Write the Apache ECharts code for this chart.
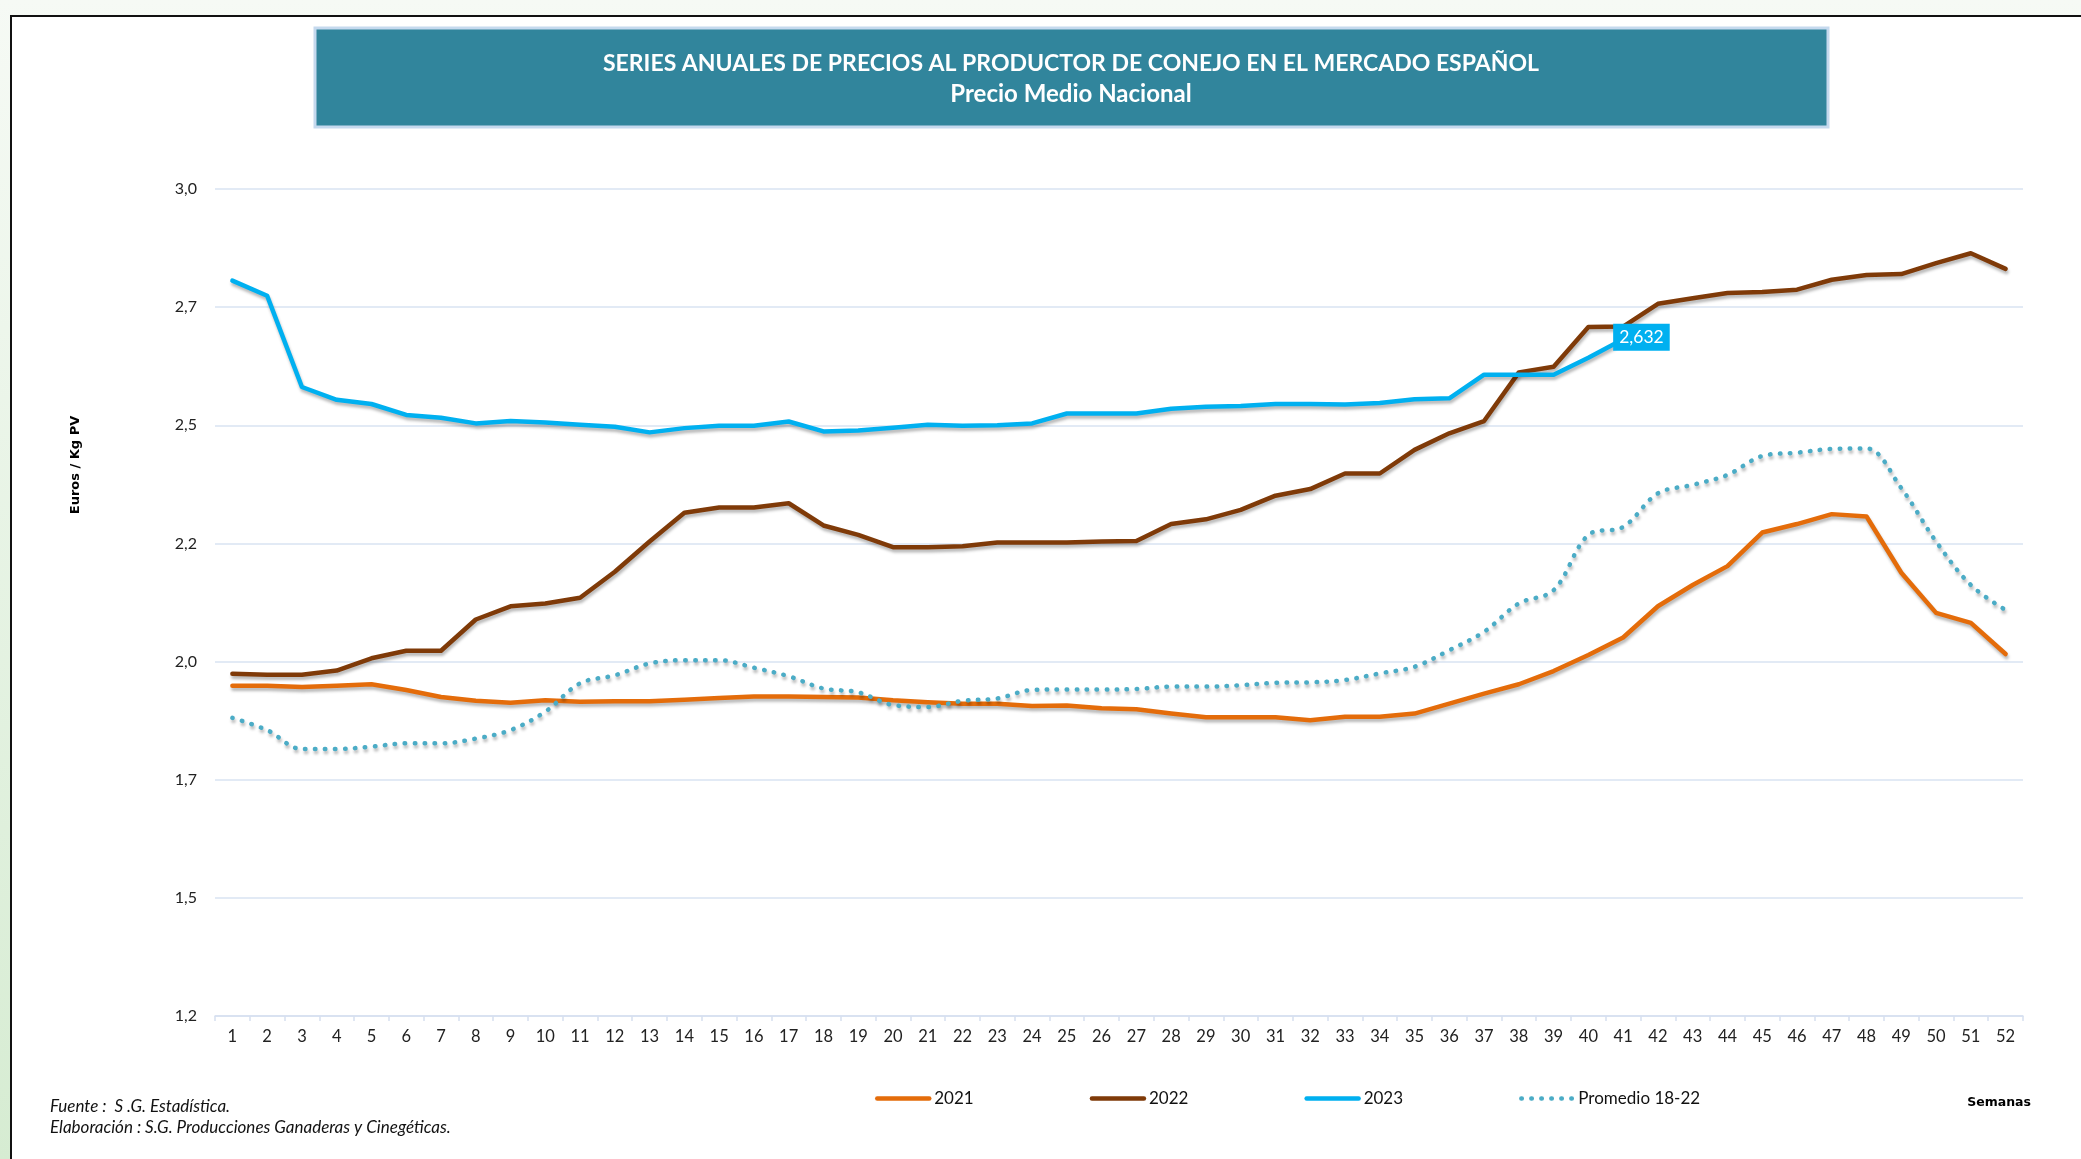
<!DOCTYPE html>
<html>
<head>
<meta charset="utf-8">
<title>Conejo - precios al productor</title>
<script src="https://cdn.jsdelivr.net/npm/echarts@6/dist/echarts.min.js"></script>
<style>
  html, body { margin: 0; padding: 0; }
  body { background: linear-gradient(180deg, #f6faf5 0%, #d6ecd2 100%); }
  #chart { width: 2081px; height: 1159px; }
</style>
</head>
<body>
<div id="chart"></div>
<script>
// semanas del año
const semanas = ['1','2','3','4','5','6','7','8','9','10','11','12','13','14','15','16','17','18','19','20',
  '21','22','23','24','25','26','27','28','29','30','31','32','33','34','35','36','37','38','39','40',
  '41','42','43','44','45','46','47','48','49','50','51','52'];

// euros / kg PV
const precios2021 = [1.899, 1.899, 1.896, 1.899, 1.902, 1.890, 1.875, 1.867, 1.863, 1.868, 1.865, 1.866, 1.866,
  1.869, 1.873, 1.876, 1.876, 1.875, 1.874, 1.868, 1.864, 1.861, 1.861, 1.856, 1.857, 1.851,
  1.849, 1.840, 1.832, 1.832, 1.832, 1.826, 1.833, 1.833, 1.840, 1.861, 1.882, 1.902, 1.930,
  1.964, 2.001, 2.067, 2.112, 2.152, 2.223, 2.241, 2.262, 2.257, 2.138, 2.053, 2.032, 1.966];

const precios2022 = [1.924, 1.922, 1.922, 1.931, 1.957, 1.973, 1.973, 2.039, 2.067, 2.073, 2.085, 2.140, 2.204,
  2.265, 2.276, 2.276, 2.285, 2.238, 2.218, 2.192, 2.192, 2.194, 2.202, 2.202, 2.202, 2.204,
  2.205, 2.241, 2.251, 2.271, 2.301, 2.315, 2.348, 2.348, 2.398, 2.433, 2.459, 2.562, 2.574,
  2.658, 2.659, 2.707, 2.719, 2.730, 2.732, 2.737, 2.758, 2.768, 2.770, 2.793, 2.814, 2.781];

const precios2023 = [2.756, 2.724, 2.531, 2.504, 2.495, 2.472, 2.466, 2.454, 2.459, 2.456, 2.451, 2.447, 2.435,
  2.444, 2.449, 2.449, 2.458, 2.437, 2.439, 2.445, 2.451, 2.449, 2.450, 2.454, 2.475, 2.475,
  2.475, 2.485, 2.489, 2.491, 2.495, 2.495, 2.494, 2.497, 2.505, 2.507, 2.557, 2.557, 2.557,
  2.593, 2.632];

const promedio1822 = [1.831, 1.805, 1.765, 1.765, 1.770, 1.777, 1.777, 1.787, 1.805, 1.844, 1.904, 1.921, 1.946,
  1.953, 1.953, 1.937, 1.919, 1.893, 1.885, 1.858, 1.854, 1.867, 1.872, 1.890, 1.891, 1.891,
  1.892, 1.897, 1.897, 1.900, 1.905, 1.906, 1.911, 1.925, 1.939, 1.974, 2.013, 2.073, 2.101,
  2.218, 2.235, 2.306, 2.324, 2.345, 2.385, 2.392, 2.400, 2.401, 2.317, 2.204, 2.112, 2.059];

const yTickLabels = ['1,2', '1,5', '1,7', '2,0', '2,2', '2,5', '2,7', '3,0'];

const chart = echarts.init(document.getElementById('chart'));

const fontNum = 'Lato, "Noto Sans", sans-serif';
const sombra = { shadowColor: 'rgba(0,0,0,0.28)', shadowBlur: 3, shadowOffsetX: 1, shadowOffsetY: 3 };

const lineSeries = (name, data, color, extra) => Object.assign({
  name: name,
  type: 'line',
  data: data,
  symbol: 'none',
  showSymbol: false,
  lineStyle: Object.assign({ color: color, width: 4.5, cap: 'round', join: 'round' }, sombra),
  itemStyle: { color: color },
  emphasis: { disabled: true }
}, extra || {});

const option = {
  animation: false,
  backgroundColor: 'transparent',
  graphic: [
    {
      type: 'rect', z: -10, silent: true,
      shape: { x: 11, y: 16, width: 2100, height: 1200 },
      style: { fill: '#fff', stroke: '#111', lineWidth: 2 }
    },
    {
      type: 'rect', silent: true,
      shape: { x: 315, y: 28, width: 1513, height: 99 },
      style: { fill: '#31859c', stroke: '#c5d9ee', lineWidth: 3 }
    },
    {
      type: 'text', silent: true, x: 1071, y: 64,
      style: {
        text: 'SERIES ANUALES DE PRECIOS AL PRODUCTOR DE CONEJO EN EL MERCADO ESPAÑOL',
        fill: '#fff', font: 'bold 23px Lato, "Noto Sans", sans-serif', align: 'center', verticalAlign: 'middle'
      }
    },
    {
      type: 'text', silent: true, x: 1071, y: 94,
      style: {
        text: 'Precio Medio Nacional',
        fill: '#fff', font: 'bold 24px Lato, "Noto Sans", sans-serif', align: 'center', verticalAlign: 'middle'
      }
    },
    {
      type: 'text', silent: true, x: 76, y: 465, rotation: Math.PI / 2,
      style: {
        text: 'Euros / Kg PV',
        fill: '#000', font: 'bold 13px "DejaVu Sans", sans-serif', align: 'center', verticalAlign: 'middle'
      }
    },
    {
      type: 'text', silent: true, x: 2031, y: 1103,
      style: {
        text: 'Semanas',
        fill: '#000', font: 'bold 12.5px "DejaVu Sans", sans-serif', align: 'right', verticalAlign: 'middle'
      }
    },
    {
      type: 'text', silent: true, x: 50, y: 1107,
      style: {
        text: 'Fuente :  S .G. Estadística.',
        fill: '#111', font: 'italic 17px Lato, "Noto Sans", sans-serif', verticalAlign: 'middle'
      }
    },
    {
      type: 'text', silent: true, x: 50, y: 1128,
      style: {
        text: 'Elaboración : S.G. Producciones Ganaderas y Cinegéticas.',
        fill: '#111', font: 'italic 17px Lato, "Noto Sans", sans-serif', verticalAlign: 'middle'
      }
    }
  ],
  legend: {
    left: 870,
    top: 1085,
    itemWidth: 52,
    itemHeight: 16,
    itemGap: 116,
    itemStyle: { opacity: 0 },
    lineStyle: { width: 4.5, shadowBlur: 0, shadowOffsetX: 0, shadowOffsetY: 0 },
    textStyle: { fontFamily: fontNum, fontSize: 17, color: '#111', width: 40 },
    data: ['2021', '2022', '2023', 'Promedio 18-22']
  },
  grid: { left: 215, right: 58, top: 189, bottom: 143, containLabel: false },
  xAxis: {
    type: 'category',
    data: semanas,
    boundaryGap: true,
    axisLine: { lineStyle: { color: '#d6e0f0', width: 1.5 } },
    axisTick: { show: true, length: 5, lineStyle: { color: '#d6e0f0', width: 1.5 } },
    axisLabel: { fontFamily: fontNum, fontSize: 16.5, color: '#222', margin: 12, interval: 0 }
  },
  yAxis: {
    type: 'value',
    min: 1.2,
    max: 2.95,
    interval: 0.25,
    axisLine: { show: false },
    axisTick: { show: false },
    splitLine: { lineStyle: { color: '#d9e3f2', width: 1.5 } },
    axisLabel: {
      fontFamily: fontNum, fontSize: 16, color: '#222', margin: 18,
      formatter: v => yTickLabels[Math.round((v - 1.2) / 0.25)]
    }
  },
  series: [
    lineSeries('2021', precios2021, '#e46c0a'),
    lineSeries('2022', precios2022, '#7f3a08'),
    lineSeries('2023', precios2023, '#00b0f0', {
      z: 4,
      // etiqueta del último dato de 2023
      endLabel: {
        show: true,
        distance: 0,
        offset: [-10, -2],
        formatter: p => Number(p.value).toFixed(3).replace('.', ','),
        backgroundColor: '#00b0f0',
        color: '#fff',
        fontFamily: fontNum,
        fontSize: 17.5,
        padding: [5, 6, 4, 6]
      }
    }),
    lineSeries('Promedio 18-22', promedio1822, '#4bacc6', {
      smooth: 0.35,
      lineStyle: Object.assign({ color: '#4bacc6', width: 4.5, type: [0.5, 9.5], cap: 'round' }, sombra)
    })
  ]
};

chart.setOption(option);
</script>
</body>
</html>
